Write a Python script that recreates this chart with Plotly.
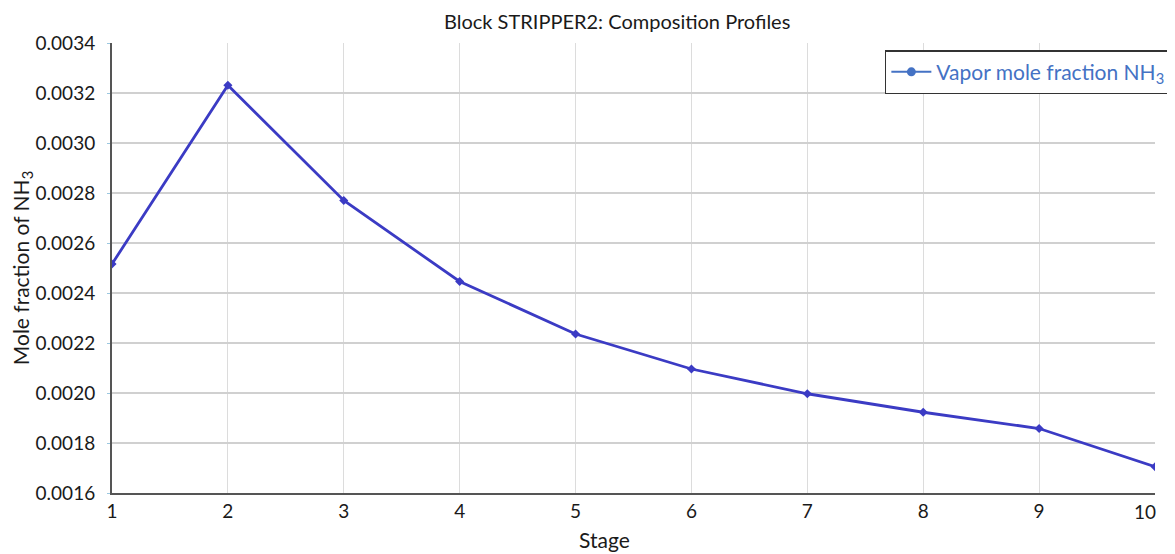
import plotly.graph_objects as go

stages = [1, 2, 3, 4, 5, 6, 7, 8, 9, 10]
vapor_nh3 = [0.002516, 0.003231, 0.002770, 0.002446, 0.002236, 0.002096,
             0.001997, 0.001923, 0.001858, 0.001705]
x_tick_labels = ["1", "2", "3", "4", "5", "6", "7", "8", "9", "10"]
y_ticks = [0.0016, 0.0018, 0.0020, 0.0022, 0.0024, 0.0026, 0.0028, 0.0030, 0.0032, 0.0034]
y_tick_labels = ["0.0016", "0.0018", "0.0020", "0.0022", "0.0024", "0.0026",
                 "0.0028", "0.0030", "0.0032", "0.0034"]

FONT = "Lato, 'Open Sans', sans-serif"
LINE_COLOR = "#3b3bc4"
LEGEND_COLOR = "#4472c4"
TEXT_COLOR = "#1a1a1a"

fig = go.Figure()
fig.add_trace(go.Scatter(
    x=stages, y=vapor_nh3, mode="lines+markers",
    line=dict(color=LINE_COLOR, width=2.8),
    marker=dict(color=LINE_COLOR, size=7, symbol="diamond"),
    showlegend=False,
))
fig.add_trace(go.Scatter(
    x=[None], y=[None], mode="lines+markers",
    name="Vapor mole fraction NH<sub>3</sub>",
    line=dict(color=LEGEND_COLOR, width=2),
    marker=dict(color=LEGEND_COLOR, size=9),
))

# last x tick label is drawn right-aligned at the plot edge (as in the reference)
shown_x_labels = x_tick_labels[:-1] + [""]
fig.add_annotation(
    x=stages[-1], y=0, xref="x", yref="paper", yanchor="top", xanchor="right",
    text=x_tick_labels[-1], showarrow=False, xshift=3, yshift=-5,
    font=dict(family=FONT, size=19, color=TEXT_COLOR),
)
# x-axis title (sits left of centre in the reference)
fig.add_annotation(
    x=0.4722, y=0, xref="paper", yref="paper", xanchor="center", yanchor="bottom",
    text="Stage", showarrow=False, yshift=-61,
    font=dict(family=FONT, size=21, color=TEXT_COLOR),
)

fig.update_layout(
    width=1167, height=546,
    margin=dict(l=104, r=4, t=35, b=61),
    paper_bgcolor="white", plot_bgcolor="white",
    font=dict(family=FONT, color=TEXT_COLOR, size=19),
    title=dict(text="Block STRIPPER2: Composition Profiles",
               xref="container", x=0.522, xanchor="center",
               yref="container", y=0.974, yanchor="middle",
               font=dict(family=FONT, size=20, color=TEXT_COLOR)),
    legend=dict(x=0.741, y=0.984, xanchor="left", yanchor="top",
                bordercolor="#333333", borderwidth=1.5, bgcolor="white",
                font=dict(family=FONT, size=21, color=LEGEND_COLOR),
                itemwidth=40, tracegroupgap=0),
    xaxis=dict(range=[1, 10], tickmode="array", tickvals=stages,
               ticktext=shown_x_labels,
               showgrid=True, gridcolor="#dcdcdc", gridwidth=1,
               showline=True, linecolor="#555555", linewidth=2,
               ticks="", tickfont=dict(size=19),
               automargin=False, zeroline=False),
    yaxis=dict(range=[0.0016, 0.0034], tickmode="array", tickvals=y_ticks,
               ticktext=y_tick_labels,
               showgrid=True, gridcolor="#d0d0d0", gridwidth=1.5,
               showline=True, linecolor="#555555", linewidth=2,
               ticks="outside", ticklen=3, tickcolor="#9cc8e0",
               ticklabelstandoff=8,
               tickfont=dict(size=19),
               title=dict(text="Mole fraction of NH<sub>3</sub>", font=dict(size=21)),
               automargin=False, zeroline=False),
)

fig.write_html("out.html")
